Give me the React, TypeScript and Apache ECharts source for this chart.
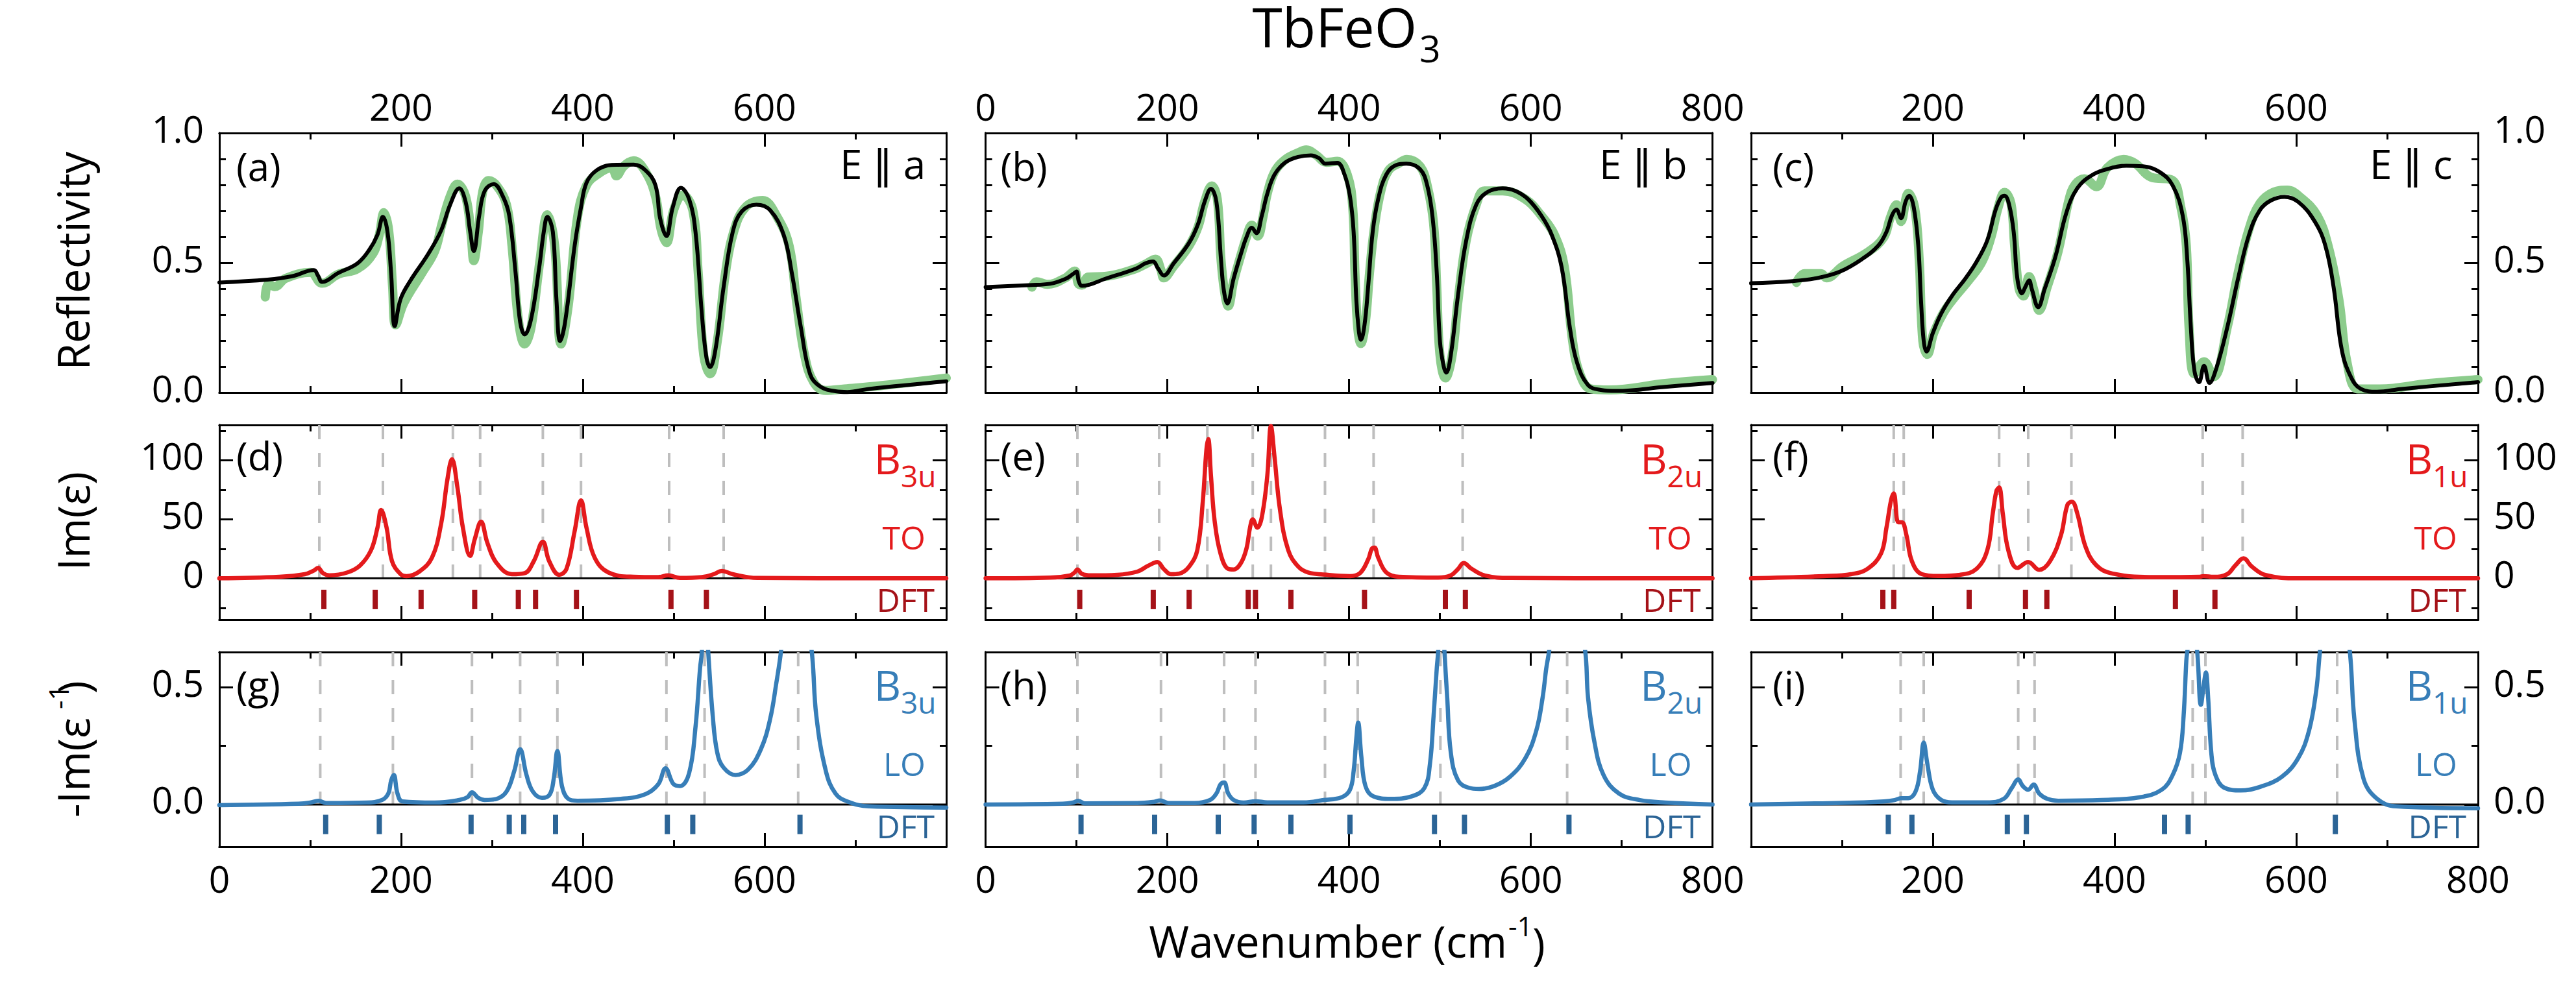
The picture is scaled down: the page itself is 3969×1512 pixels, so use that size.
import React, { useEffect, useRef } from "react";
import * as echarts from "echarts";

// ---------- Reflectivity: fit (black) and measured (green) ----------
const fitA = [[0,.424],[53,.435],[80,.448],[104,.472],[108.6,.45],[113,.426],[131,.461],[152,.498],[165,.55],[174,.608],[180,.677],[185,.62],[189,.46],[193,.256],[199.5,.361],[210,.43],[230,.535],[244,.624],[254,.724],[264,.787],[271,.735],[276,.62],[280,.545],[286,.682],[292,.777],[302,.803],[312,.756],[319,.682],[326,.461],[331,.272],[336,.224],[343,.282],[352,.482],[357,.619],[361,.677],[367,.619],[371,.356],[375,.198],[380.5,.272],[391,.566],[398,.714],[404,.808],[415,.856],[432,.877],[456,.878],[469,.856],[480,.798],[485,.672],[492,.603],[499,.714],[508,.789],[517,.745],[524,.619],[531,.303],[536,.135],[540,.098],[546,.166],[555,.408],[565,.619],[575,.698],[591,.724],[606,.703],[621,.608],[630,.461],[640,.25],[650,.072],[661,.024],[678,.005],[691,.002],[715,.014],[800,.043]];
const measA = [[50.5,.368],[54,.419],[61,.408],[73,.44],[100,.463],[113,.421],[131,.456],[152,.477],[169,.535],[176,.608],[181,.693],[186.5,.62],[190.6,.408],[194,.261],[203,.345],[223,.461],[237,.545],[245,.65],[254,.756],[262,.803],[271,.756],[277,.608],[280,.508],[285,.619],[290,.777],[296.5,.817],[305,.798],[316,.724],[322,.566],[329,.282],[336,.187],[343,.25],[353,.514],[361,.685],[369,.566],[376,.187],[384,.335],[394,.672],[404,.798],[418,.845],[432,.866],[437,.835],[445,.872],[456,.893],[469,.851],[480,.756],[486,.63],[492,.577],[500,.703],[510,.761],[521,.703],[527,.461],[533,.145],[540,.072],[548,.198],[557,.461],[566,.619],[579,.714],[598,.74],[613,.682],[627,.566],[635,.356],[644,.145],[654,.04],[667,.008],[688,.014],[729,.027],[800,.056]];
const fitB = [[0,.406],[48,.414],[71,.419],[88,.438],[96,.456],[100,.466],[102.5,.429],[106,.411],[133,.44],[165,.477],[176,.498],[184,.505],[190,.477],[196,.451],[207,.498],[224,.577],[234,.651],[241,.735],[248,.785],[254,.735],[259,.514],[262,.398],[266,.343],[273,.44],[281,.535],[287,.598],[293,.635],[298,.614],[304,.682],[310,.766],[318,.84],[330,.887],[344,.908],[358,.914],[367,.903],[374,.882],[387,.885],[395,.84],[401,.756],[405,.619],[408,.356],[411,.229],[413,.203],[417,.261],[421,.408],[426,.619],[432,.745],[441,.84],[452,.877],[463,.882],[478,.861],[486,.798],[492,.672],[496.5,.461],[500,.198],[504,.103],[507,.077],[512,.145],[520,.377],[529,.587],[540,.724],[552,.772],[569,.787],[583,.777],[597,.745],[611.5,.682],[623,.608],[634,.482],[643,.25],[651,.114],[663,.029],[677,.01],[694,.006],[748,.022],[800,.037]];
const measB = [[51,.406],[56,.427],[68,.417],[88,.442],[98,.468],[102,.419],[106,.414],[113,.445],[133,.448],[165,.477],[176,.495],[187,.514],[193,.472],[196,.442],[207,.487],[224,.566],[234,.64],[241,.735],[249,.796],[255,.745],[259,.514],[263,.387],[267,.333],[273,.43],[281,.53],[287,.598],[293,.645],[299.5,.603],[305,.672],[310,.766],[318,.85],[330,.898],[344,.924],[353,.935],[364,.914],[375,.887],[387,.891],[398,.84],[404,.714],[406.5,.461],[409.5,.25],[413,.189],[418,.272],[422.5,.461],[428,.64],[435,.777],[443.5,.856],[455,.884],[463.5,.898],[478,.872],[486,.798],[493,.651],[496.5,.408],[500,.145],[506,.056],[513.5,.145],[520,.356],[529,.587],[540,.724],[549,.777],[569,.777],[594,.745],[611.5,.682],[626,.608],[637,.482],[646,.198],[654,.072],[666,.014],[686,.01],[748,.035],[800,.05]];
const fitC = [[0,.421],[44,.429],[74,.442],[98,.466],[122,.514],[140,.566],[149,.619],[155,.682],[160,.705],[165,.672],[170,.735],[174,.758],[179,.714],[184,.566],[187,.356],[190,.198],[193,.158],[200,.229],[209,.303],[221,.372],[236,.44],[248,.503],[260,.587],[269,.703],[275,.751],[279,.758],[284,.724],[289,.619],[293,.44],[298,.382],[302,.408],[306,.432],[309,.398],[316,.329],[323,.398],[335,.524],[347,.693],[359,.787],[374,.835],[392,.861],[413,.874],[431,.872],[449,.851],[464,.798],[475,.682],[480,.514],[484,.25],[488,.082],[493,.04],[498.5,.103],[504.5,.037],[512,.093],[524,.25],[536,.44],[548,.608],[560,.703],[572,.74],[587,.754],[602,.735],[620,.661],[632,.566],[641,.408],[650,.166],[660,.061],[671,.014],[689,.003],[716,.014],[800,.04]];
const measC = [[50,.424],[59,.458],[77,.458],[83,.442],[101,.487],[128,.54],[146,.598],[153,.672],[160,.724],[165,.659],[173,.768],[180,.714],[185,.514],[189,.198],[194,.147],[201,.229],[212,.309],[224,.367],[239,.43],[254,.503],[264,.598],[272,.714],[279,.771],[286,.729],[290,.566],[295,.398],[300,.372],[306,.447],[311,.398],[317,.317],[326,.408],[338,.545],[350,.745],[357,.803],[367,.824],[380,.793],[392,.866],[410,.898],[423,.882],[440,.83],[463,.819],[473,.714],[479,.566],[482,.25],[488,.072],[498.5,.119],[509,.061],[524,.25],[536,.461],[548,.63],[560,.729],[575,.772],[590,.78],[605,.751],[623,.682],[635,.566],[647,.356],[656,.114],[668,.014],[692,.014],[746,.035],[800,.05]];

// ---------- Im(eps) ----------
const toD = [[0,0],[66,1.3],[94,3.5],[104,6.6],[108.6,8.8],[114,4.4],[121,2.5],[141,5],[155,11],[167,24],[174,43],[178,58],[184,43],[190,14.5],[199.5,3.5],[206,1.9],[220,5.7],[234,17.6],[244,46],[251,84],[256,101],[262,77],[268,43],[276,19],[281,33],[288,48],[295,30],[305,13],[322,3.5],[336,4.4],[346,14.5],[356,31],[363,14.5],[374,3],[382,8],[391,40],[398,66],[404,43],[413,17.6],[428,5],[456,1.3],[483,1],[494,2.5],[507,.3],[531,1],[544,3.5],[553,6.3],[565,3.5],[592,.3],[800,0]];
const toE = [[0,0],[71,.6],[93,2.5],[98,5],[101,7.5],[106,3.8],[116,2.5],[145,3],[167,5.7],[179,10.7],[189,13.8],[196,8],[204,3.5],[213,4],[224,10],[233,24],[239,65],[243,109],[245,118],[248,87],[252,49],[258.5,21],[267,8],[273,7.5],[281,13],[287,25],[291,43],[294,50],[299,43],[304,52],[310,87],[314,129],[318,102.5],[324,58],[333,24],[344,10],[355,5],[378,2.8],[401,1.9],[412,4.4],[421,16],[425,25],[428,26],[432,17.6],[441,5],[455,1.3],[498,.6],[512,2.5],[520,8],[526,13],[535,8],[549,2.5],[577,.3],[800,0]];
const toF = [[0,0],[80,1.9],[110,3.5],[128,8],[143,21],[149,43],[154,66],[157,72],[162,47.5],[166,47.5],[171,36.5],[177,14.5],[188,3.5],[206,2],[230,3],[248,8],[260,24],[266,55],[270,74],[273,77],[277,55],[283,24],[293,8.8],[305,13.8],[317,7.2],[329,14.5],[341,36.5],[348,62],[353,65],[359,55],[368,27],[380,11],[398,4],[446,1],[494,1.3],[498,1.9],[509,1.3],[524,3.5],[533,11],[542,17],[551,10],[566,2.8],[602,0],[800,0]];

// ---------- -Im(1/eps) ----------
const loG = [[0,-.003],[87,.003],[100,.008],[109,.016],[117.5,.006],[162,.008],[179,.019],[186,.047],[189,.102],[192,.126],[196,.047],[201.5,.013],[237,.008],[264,.019],[273,.031],[278,.052],[285,.028],[292,.019],[305,.024],[316,.055],[324.5,.142],[331,.236],[338,.126],[345,.055],[355,.028],[363.5,.042],[368,.11],[372,.228],[377,.079],[384,.024],[394,.016],[442,.024],[469,.044],[483,.086],[491,.154],[500,.086],[507,.079],[517,.134],[524,.33],[529,.58],[531,.65],[534,.9],[538,.65],[543,.377],[548,.22],[555,.157],[568,.126],[582,.149],[596,.236],[606,.362],[613,.519],[618,.65],[634,1.2],[652,.65],[657,.377],[667.5,.142],[678,.047],[691,.013],[715,-.008],[800,-.013]];
const loH = [[0,0],[85,.003],[96,.008],[102,.016],[109,.005],[167,.006],[184.5,.011],[192,.017],[201.5,.006],[230,.006],[247,.019],[254,.047],[258.5,.086],[262.5,.094],[267,.047],[273,.019],[284,.008],[297,.014],[310,.009],[350,.009],[372,.019],[392,.031],[401,.063],[405,.142],[408,.283],[410,.349],[413.5,.204],[418,.079],[426.5,.035],[446,.024],[469,.035],[483,.071],[489,.173],[493,.377],[496.5,.58],[498,.65],[501.5,.9],[505,.65],[508,.456],[512,.22],[520,.102],[532,.071],[543,.066],[560,.079],[577,.118],[594,.197],[606,.314],[613,.456],[617,.58],[620,.65],[640,1.2],[660,.65],[663,.456],[670,.267],[680,.126],[697,.047],[720,.019],[748,.008],[800,0]];
const loI = [[0,0],[116,.008],[146,.013],[158,.019],[165,.027],[173,.027],[181,.055],[186,.142],[190,.264],[194,.173],[200,.063],[209,.02],[221,.009],[260,.009],[278,.024],[287,.071],[294,.107],[299,.079],[305,.063],[311,.085],[317,.047],[326,.024],[338,.016],[386,.019],[428,.031],[452,.063],[464,.126],[472,.22],[476,.377],[479,.613],[480,.65],[485.5,.8],[491,.65],[495,.425],[498.5,.519],[500.5,.563],[503,.456],[506.5,.22],[511,.126],[521,.071],[539,.06],[560,.075],[584,.118],[602,.197],[614,.314],[622,.487],[626,.65],[642,1.2],[659,.65],[664,.362],[674,.11],[689,.024],[710,-.008],[800,-.016]];

// ---------- mode positions (dashed guides) and DFT ticks ----------
const guideD = [110,180,257,287,356,398,495,555];
const guideE = [101,191,244,294,314,373.5,427,525];
const guideF = [157,168,273,305,352.5,497,541];
const guideG = [111,191,278,331,372,492,534,637];
const guideH = [101,193,262.5,297,373.5,409.5,500.5,640];
const guideI = [164.6,190,294,312,486,500,645];
const dftD = [115,171.5,222,281,329,348,393,497,536];
const dftE = [103.6,184.5,224,289,297,336,417,506,528];
const dftF = [145,157,240,302,325.5,467,510.5];
const dftG = [117,176,277,319,335,370,493,521,639];
const dftH = [105,186,256,295.5,336,401,494,527,642];
const dftI = [151,177,282,303,455,481,643];

// ---------- ticks ----------
const xMajor = [0,200,400,600,800];
const xMinor = [100,300,500,700];
const xLabelsOuter = [200,400,600];
const xLabelsMiddle = [0,200,400,600,800];
const xLabelsFirst = [0,200,400,600];
const xLabelsLast = [200,400,600,800];
const reflMajor = [0,0.5,1];
const reflMinor = [0.1,0.2,0.3,0.4,0.6,0.7,0.8,0.9];
const toMajor = [0,50,100];
const toMinor = [-25,25,75,125];
const toLabels = [0,50,100];
const loMajor = [0,0.5];
const loMinor = [0.25];

const FONT = "'Open Sans','DejaVu Sans',sans-serif";
const RED = "#E41A1C";
const BLUE = "#377EB8";
const DARK_RED = "#A51218";
const DARK_BLUE = "#2B6496";
const GREEN = "#8CCC8C";
const GUIDE = "#BEBEBE";

const lefts = [338, 1518.6, 2698];
const tops = [205, 655, 1005];
const heights = [400, 300, 300];
const W = 1120;
const T = 57;

function buildOption() {
  const grid: any[] = [], xAxis: any[] = [], yAxis: any[] = [], series: any[] = [], graphic: any[] = [];

  const axis = (gi: number, position: string, min: number, max: number, ticks: number[], len: number, labels?: number[], dec = 0, margin = 24, vertical = false) => ({
    type: "value", gridIndex: gi, position, min, max, scale: true,
    axisLine: { show: true, onZero: false, lineStyle: { color: "#000", width: 3 } },
    axisTick: { show: true, inside: true, length: len, customValues: ticks, lineStyle: { color: "#000", width: 3 } },
    axisLabel: labels
      ? { show: true, customValues: labels, margin, fontFamily: FONT, fontSize: T, color: "#000", formatter: (v: number) => v.toFixed(dec),
          ...(vertical ? { verticalAlign: "bottom", lineHeight: 15 } : {}) }
      : { show: false },
    splitLine: { show: false },
    minorTick: { show: false },
  });

  const text = (t: string, x: number, y: number, size: number, color = "#000", align = "left", rotation = 0) => {
    graphic.push({ type: "text", x, y, rotation, silent: true, z: 20, style: { text: t, fontFamily: FONT, fontSize: size, fill: color, align, verticalAlign: "middle" } });
  };

  const rows = [
    { ymin: 0, ymax: 1, major: reflMajor, minor: reflMinor, dec: 1, labels: reflMajor },
    { ymin: -35, ymax: 130, major: toMajor, minor: toMinor, dec: 0, labels: toLabels },
    { ymin: -0.18, ymax: 0.65, major: loMajor, minor: loMinor, dec: 1, labels: loMajor },
  ];
  const curveSets = [
    [[fitA, measA], [fitB, measB], [fitC, measC]],
    [toD, toE, toF],
    [loG, loH, loI],
  ];
  const guides = [[], [guideD, guideE, guideF], [guideG, guideH, guideI]];
  const dfts = [[], [dftD, dftE, dftF], [dftG, dftH, dftI]];
  const dftY = [0, -17.9, -0.085];
  const topLabels = [xLabelsOuter, xLabelsMiddle, xLabelsOuter];
  const bottomLabels = [xLabelsFirst, xLabelsMiddle, xLabelsLast];

  let gi = 0;
  rows.forEach((row, r) => {
    lefts.forEach((left, c) => {
      grid.push({ left, top: tops[r], width: W, height: heights[r], containLabel: false });
      const xi = xAxis.length, yi = yAxis.length;
      xAxis.push(axis(gi, "bottom", 0, 800, xMajor, 21, r === 2 ? bottomLabels[c] : undefined, 0, 20));
      xAxis.push(axis(gi, "top", 0, 800, xMajor, 21, r === 0 ? topLabels[c] : undefined, 0, 13));
      xAxis.push(axis(gi, "bottom", 0, 800, xMinor, 10));
      xAxis.push(axis(gi, "top", 0, 800, xMinor, 10));
      yAxis.push(axis(gi, "left", row.ymin, row.ymax, row.major, 21, c === 0 ? row.labels : undefined, row.dec, 24, true));
      yAxis.push(axis(gi, "right", row.ymin, row.ymax, row.major, 21, c === 2 ? row.labels : undefined, row.dec, 24, true));
      yAxis.push(axis(gi, "left", row.ymin, row.ymax, row.minor, 10));
      yAxis.push(axis(gi, "right", row.ymin, row.ymax, row.minor, 10));

      const base = { xAxisIndex: xi, yAxisIndex: yi, silent: true };
      const line = (data: number[][], color: string, width: number, z: number, smooth = 0.4) => ({
        ...base, type: "line", data, symbol: "none", showSymbol: false, smooth, z,
        lineStyle: { color, width, cap: "round", join: "round" },
      });
      if (r === 0) {
        const [fit, meas] = curveSets[0][c] as number[][][];
        series.push(line(meas, GREEN, 14, 3));
        series.push(line(fit, "#000", 6, 4));
      } else {
        const color = r === 1 ? RED : BLUE;
        const dark = r === 1 ? DARK_RED : DARK_BLUE;
        series.push({
          ...base, type: "custom", z: 1,
          data: (guides[r][c] as number[]).map((v) => [v]),
          encode: { x: 0 },
          renderItem: (_: any, api: any) => {
            const a = api.coord([api.value(0), row.ymax]);
            const b = api.coord([api.value(0), 0]);
            return { type: "line", shape: { x1: a[0], y1: a[1], x2: b[0], y2: b[1] }, style: { stroke: GUIDE, lineWidth: 4, lineDash: [22, 21] } };
          },
        });
        series.push(line([[0, 0], [800, 0]], "#000", 3, 2, 0));
        series.push(line(curveSets[r][c] as number[][], color, 6.5, 3));
        series.push({
          ...base, type: "scatter", z: 3, symbol: "rect", symbolSize: [8, 30],
          itemStyle: { color: dark, opacity: 1 },
          data: (dfts[r][c] as number[]).map((v) => [v, dftY[r]]),
        });
      }
      gi++;
    });
  });

  // Title
  text("TbFeO", 2183, 40, 84, "#000", "right");
  text("3", 2187, 74, 57);

  // Axis titles
  const V = Math.PI / 2;
  text("Wavenumber (cm", 2322, 1450, 67, "#000", "right");
  text("-1", 2324, 1426, 42);
  text(")", 2361, 1453, 67);
  text("Reflectivity", 112, 402, 67, "#000", "center", V);
  text("Im(ε)", 112, 803, 67, "#000", "center", V);
  text("-Im(ε", 112, 1260, 67, "#000", "left", V);
  text("-1", 89, 1093, 42, "#000", "left", V);
  text(")", 112, 1069, 67, "#000", "left", V);

  // Panel letters and polarisation
  const letters = [["(a)", "(b)", "(c)"], ["(d)", "(e)", "(f)"], ["(g)", "(h)", "(i)"]];
  const letterOffset = [26, 23, 33];
  const letterY = [256, 702, 1055];
  letters.forEach((row, r) => row.forEach((l, c) => text(l, lefts[c] + letterOffset[c], letterY[r], 60)));
  const polar = ["E ∥ a", "E ∥ b", "E ∥ c"];
  const polarX = [1294, 2464, 3651];
  polar.forEach((p, c) => text(p, polarX[c], 252, 62));

  // Mode labels
  const syms = ["B", "B", "B"];
  const subs = ["3u", "2u", "1u"];
  lefts.forEach((left, c) => {
    const right = left + W;
    text(syms[c], right - 70, 706, 64, RED, "right");
    text(subs[c], right - 70, 733, 46, RED);
    text("TO", right - 32, 827.5, 50, RED, "right");
    text("DFT", right - 18, 924, 50, DARK_RED, "right");
    text(syms[c], right - 70, 1055, 64, BLUE, "right");
    text(subs[c], right - 70, 1082, 46, BLUE);
    text("LO", right - 32, 1177, 50, BLUE, "right");
    text("DFT", right - 18, 1273, 50, DARK_BLUE, "right");
  });

  return { animation: false, backgroundColor: "#fff", tooltip: { show: false }, grid, xAxis, yAxis, series, graphic };
}

export default function App() {
  const ref = useRef<HTMLDivElement>(null);
  useEffect(() => {
    if (!ref.current) return;
    const chart = echarts.init(ref.current, undefined, { renderer: "svg" });
    chart.setOption(buildOption() as any);
    return () => chart.dispose();
  }, []);
  return <div ref={ref} style={{ position: "absolute", left: 0, top: 0, width: 3969, height: 1512 }} />;
}
